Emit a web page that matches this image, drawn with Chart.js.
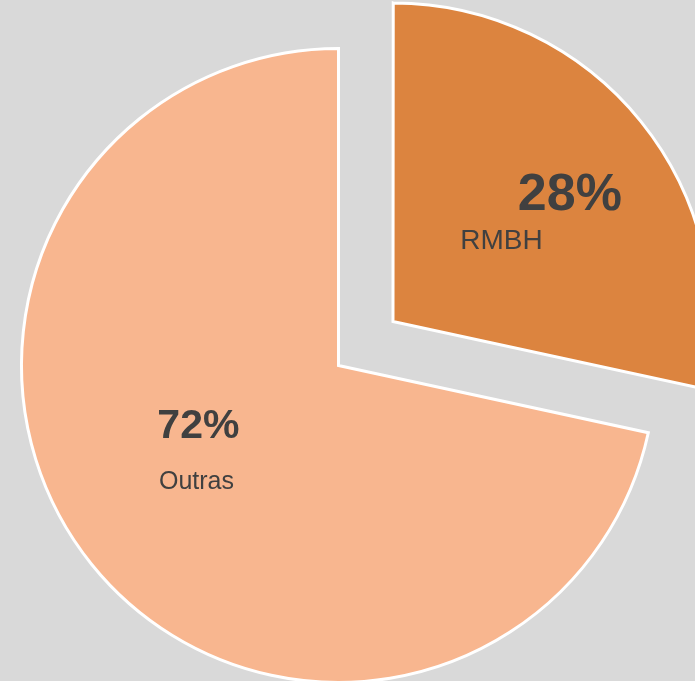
<!DOCTYPE html>
<html>
<head>
<meta charset="utf-8">
<script src="https://cdn.jsdelivr.net/npm/chart.js@4"></script>
<style>
  html, body { margin: 0; padding: 0; background: #d9d9d9; overflow: hidden; }
  #frame { position: absolute; left: 0; top: 0; width: 695px; height: 681px; overflow: hidden; background: #d9d9d9; }
  #wrap { position: absolute; }
</style>
</head>
<body>
<div id="frame"><div id="wrap"><canvas id="c"></canvas></div></div>
<script>
const categories = ['RMBH', 'Outras'];
const values = [28.4, 71.6];
const percentLabels = ['28%', '72%'];
const colors = ['#DC843F', '#F8B68F'];

// geometry of the reference
const CX = 338, CY = 365, R = 317;
const BORDER = 3;
const OFFSET = 280;           // Chart.js translates an offset arc by offset/4
const SIZE = 2 * R + BORDER + OFFSET;
const wrap = document.getElementById('wrap');
wrap.style.width = SIZE + 'px';
wrap.style.height = SIZE + 'px';
wrap.style.left = (CX - SIZE / 2) + 'px';
wrap.style.top = (CY - SIZE / 2) + 'px';

const labelLayout = [
  { pct: [0.730, -0.492], pctFont: 'bold 52px "Liberation Sans", Arial, sans-serif',
    name: [0.514, -0.366], nameFont: '28px "Liberation Sans", Arial, sans-serif' },
  { pct: [-0.442, 0.230], pctFont: 'bold 41px "Liberation Sans", Arial, sans-serif',
    name: [-0.448, 0.391], nameFont: '25px "Liberation Sans", Arial, sans-serif' }
];

const labelPlugin = {
  id: 'sliceLabels',
  afterDatasetsDraw(chart) {
    const ctx = chart.ctx;
    const arcs = chart.getDatasetMeta(0).data;
    ctx.save();
    ctx.fillStyle = '#404040';
    ctx.textAlign = 'center';
    ctx.textBaseline = 'alphabetic';
    arcs.forEach((arc, i) => {
      const L = labelLayout[i];
      const r = arc.outerRadius;
      ctx.font = L.pctFont;
      ctx.fillText(percentLabels[i], arc.x + L.pct[0] * r, arc.y + L.pct[1] * r);
      ctx.font = L.nameFont;
      ctx.fillText(categories[i], arc.x + L.name[0] * r, arc.y + L.name[1] * r);
    });
    ctx.restore();
  }
};

new Chart(document.getElementById('c'), {
  type: 'pie',
  data: {
    labels: categories,
    datasets: [{
      data: values,
      backgroundColor: colors,
      borderColor: '#ffffff',
      borderWidth: BORDER,
      borderJoinStyle: 'miter',
      offset: [OFFSET, 0],
      hoverOffset: 0,
      hoverBorderWidth: BORDER
    }]
  },
  options: {
    responsive: true,
    maintainAspectRatio: false,
    animation: false,
    rotation: 0,
    layout: { padding: 0 },
    events: [],
    plugins: {
      legend: { display: false },
      tooltip: { enabled: false }
    }
  },
  plugins: [labelPlugin]
});
</script>
</body>
</html>
